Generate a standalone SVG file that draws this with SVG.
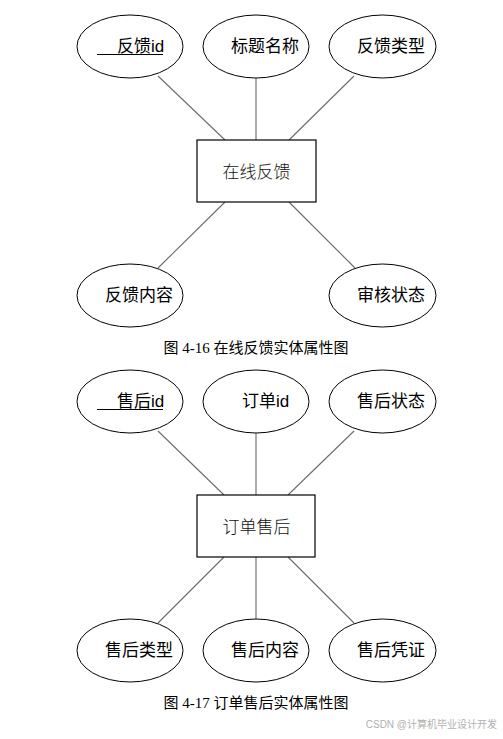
<svg xmlns="http://www.w3.org/2000/svg" width="503" height="739" viewBox="0 0 503 739">
<style>
.bg{fill:#fff}
.ent ellipse{fill:#fff;stroke:#000;stroke-width:1}
.ent rect{fill:#fff;stroke:#000;stroke-width:1.2}
.lbl{font-family:"Liberation Sans","Noto Sans CJK SC",sans-serif;font-size:17px;fill:#000}
.ttl{font-family:"Liberation Serif","Noto Sans CJK SC",serif;font-size:17px;font-weight:300;fill:#111;text-anchor:middle}
.cap{font-family:"Liberation Serif","Noto Sans CJK SC",serif;font-size:15px;fill:#000;text-anchor:middle}
.conn line{stroke:#6b6b6b;stroke-width:1.1}
.ul{stroke:#000;stroke-width:1}
.wm{font-family:"Liberation Sans","Noto Sans CJK SC",sans-serif;font-size:10px;fill:#b0b0b0;text-anchor:end}
</style>
<rect class="bg" width="503" height="739"/>
<g id="connectors">
<g class="conn">
<line x1="158" y1="76" x2="225" y2="140"/>
<line x1="256" y1="78" x2="256" y2="140"/>
<line x1="354" y1="76" x2="289" y2="140"/>
<line x1="225" y1="202" x2="158" y2="268"/>
<line x1="289" y1="202" x2="355" y2="268"/>
<line x1="158" y1="431" x2="224" y2="495"/>
<line x1="256" y1="433" x2="256" y2="495"/>
<line x1="354" y1="431" x2="288" y2="495"/>
<line x1="224" y1="557" x2="158" y2="623"/>
<line x1="256" y1="557" x2="256" y2="619"/>
<line x1="288" y1="557" x2="354" y2="623"/>
</g>
</g>
<g id="fk-id" class="ent"><ellipse cx="130" cy="46.5" rx="53" ry="31.5"/><text class="lbl" x="117" y="52">反馈id</text><line class="ul" x1="97" y1="54.5" x2="163" y2="54.5"/></g>
<g id="fk-title" class="ent"><ellipse cx="256" cy="46.5" rx="53" ry="31.5"/><text class="lbl" x="231" y="52">标题名称</text></g>
<g id="fk-type" class="ent"><ellipse cx="382.5" cy="46.5" rx="53.5" ry="31.5"/><text class="lbl" x="357" y="52">反馈类型</text></g>
<g id="fk" class="ent"><rect x="197" y="140" width="119" height="62"/><text class="ttl" x="256.5" y="178">在线反馈</text></g>
<g id="fk-content" class="ent"><ellipse cx="130" cy="295.5" rx="53" ry="31.5"/><text class="lbl" x="105" y="301">反馈内容</text></g>
<g id="fk-status" class="ent"><ellipse cx="382.5" cy="295.5" rx="53.5" ry="31.5"/><text class="lbl" x="357" y="301">审核状态</text></g>
<text class="cap" x="256" y="353">图 4-16 在线反馈实体属性图</text>
<g id="sh-id" class="ent"><ellipse cx="130" cy="401.5" rx="53" ry="31.5"/><text class="lbl" x="117" y="407">售后id</text><line class="ul" x1="97" y1="409.5" x2="163" y2="409.5"/></g>
<g id="order-id" class="ent"><ellipse cx="256" cy="401.5" rx="53" ry="31.5"/><text class="lbl" x="242" y="407">订单id</text></g>
<g id="sh-status" class="ent"><ellipse cx="382.5" cy="401.5" rx="53.5" ry="31.5"/><text class="lbl" x="357" y="407">售后状态</text></g>
<g id="sh" class="ent"><rect x="197" y="495" width="118" height="62"/><text class="ttl" x="256.5" y="533">订单售后</text></g>
<g id="sh-type" class="ent"><ellipse cx="130" cy="650.5" rx="53" ry="31.5"/><text class="lbl" x="105" y="656">售后类型</text></g>
<g id="sh-content" class="ent"><ellipse cx="256" cy="650.5" rx="53" ry="31.5"/><text class="lbl" x="231" y="656">售后内容</text></g>
<g id="sh-proof" class="ent"><ellipse cx="382.5" cy="650.5" rx="53.5" ry="31.5"/><text class="lbl" x="357" y="656">售后凭证</text></g>
<text class="cap" x="256" y="708">图 4-17 订单售后实体属性图</text>
<text class="wm" x="497" y="728">CSDN @计算机毕业设计开发</text>
</svg>
